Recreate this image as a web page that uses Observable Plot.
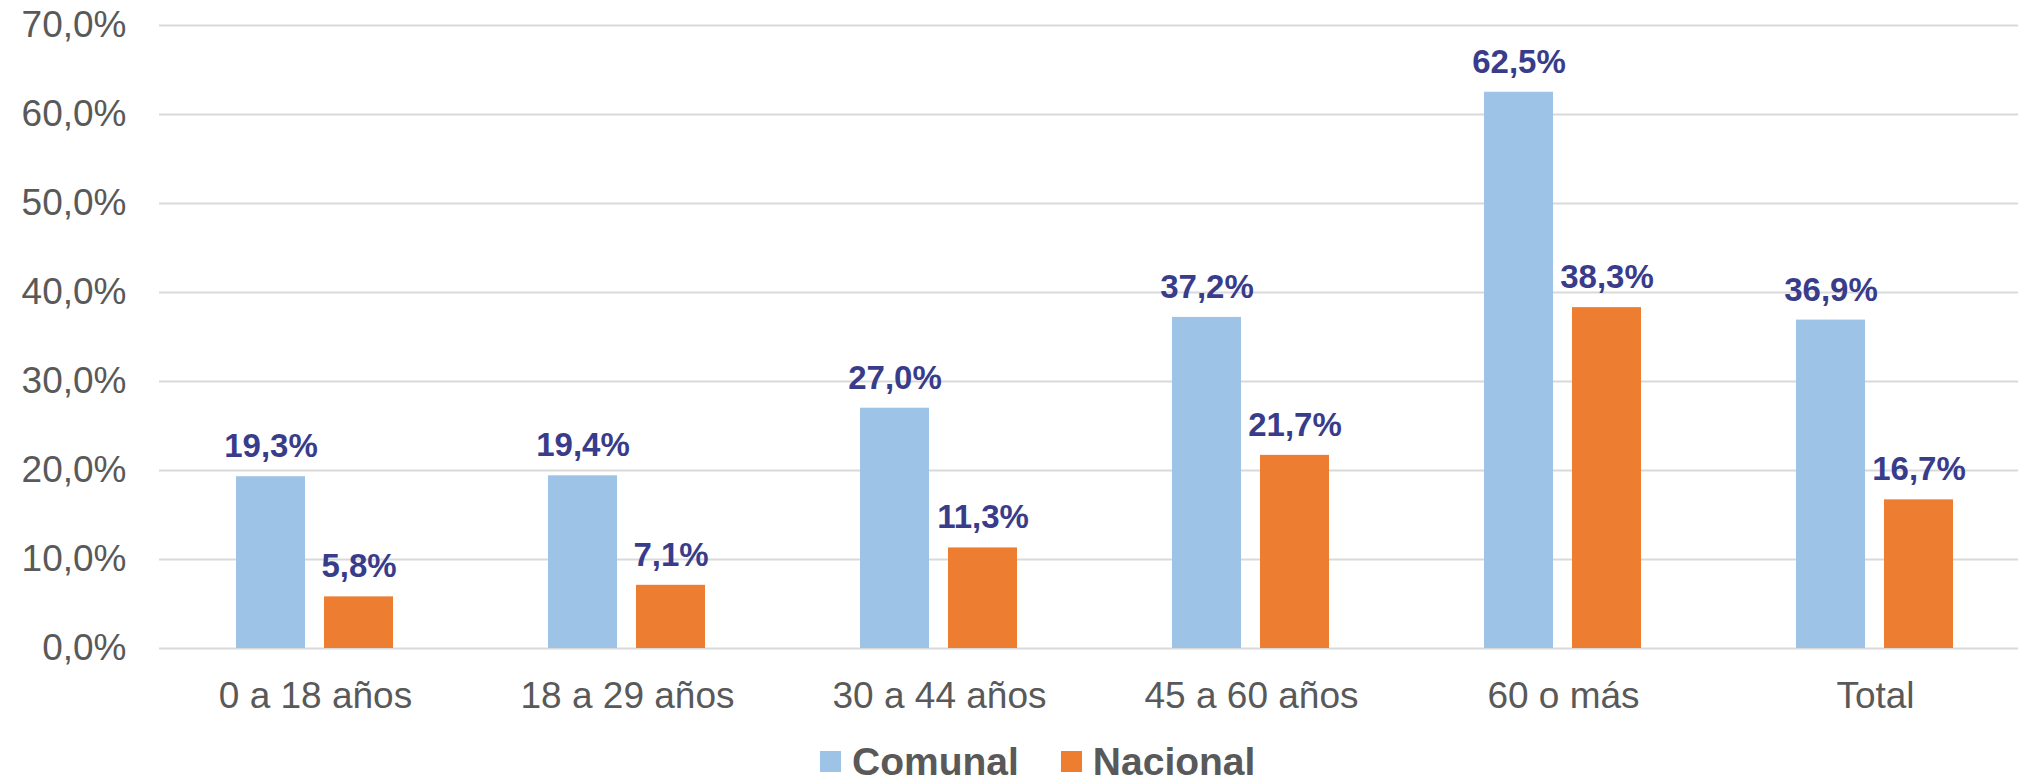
<!DOCTYPE html>
<html>
<head>
<meta charset="utf-8">
<script src="https://cdn.jsdelivr.net/npm/d3@7"></script>
<script src="https://cdn.jsdelivr.net/npm/@observablehq/plot@0.6"></script>
<style>
  html, body { margin: 0; padding: 0; background: #fff; }
  body { width: 2018px; height: 779px; overflow: hidden; font-family: "Liberation Sans", Arial, sans-serif; }
  #legend { display: flex; align-items: center; height: 39px; margin-top: 17px; padding-left: 820px; }
  #legend .sw { width: 21px; height: 21px; margin-right: 11px; }
  #legend .lb { font-size: 39px; line-height: 39px; font-weight: bold; color: #595959; margin-right: 42px; }
</style>
</head>
<body>
<div id="chart"></div>
<div id="legend"></div>
<script>
const categories = ["0 a 18 años", "18 a 29 años", "30 a 44 años", "45 a 60 años", "60 o más", "Total"];
const series = ["Comunal", "Nacional"];
const comunal = [19.3, 19.4, 27.0, 37.2, 62.5, 36.9];
const nacional = [5.8, 7.1, 11.3, 21.7, 38.3, 16.7];
const colors = ["#9DC3E6", "#ED7D31"];
const yTicks = [0, 10, 20, 30, 40, 50, 60, 70];

const data = [];
categories.forEach((c, i) => {
  data.push({cat: c, series: "Comunal", value: comunal[i]});
  data.push({cat: c, series: "Nacional", value: nacional[i]});
});
const fmt = d => d.toFixed(1).replace(".", ",") + "%";

const chart = Plot.plot({
  width: 2018,
  height: 725,
  marginLeft: 156,
  marginRight: -15,
  marginTop: 25,
  marginBottom: 77,
  style: {fontFamily: "'Liberation Sans', Arial, sans-serif", fontSize: "37px", color: "#595959", background: "#fff", overflow: "visible"},
  fx: {domain: categories, padding: 0, label: null, tickSize: 0, tickPadding: 33, axis: "bottom"},
  x: {domain: series, axis: null, paddingInner: 0.2135, paddingOuter: 0.864},
  y: {domain: [0, 70], ticks: yTicks, tickFormat: fmt, tickSize: 0, tickPadding: 33, label: null},
  color: {domain: series, range: colors},
  marks: [
    Plot.ruleY(yTicks, {stroke: "#D9D9D9", strokeWidth: 2}),
    Plot.barY(data, {fx: "cat", x: "series", y: "value", fill: "series"}),
    Plot.text(data, {fx: "cat", x: "series", y: "value", text: d => fmt(d.value), dy: -30, fill: "#393C8A", fontSize: 33, fontWeight: "bold"})
  ]
});
document.getElementById("chart").appendChild(chart);

const legend = document.getElementById("legend");
series.forEach((s, i) => {
  const sw = document.createElement("span");
  sw.className = "sw";
  sw.style.background = colors[i];
  const lb = document.createElement("span");
  lb.className = "lb";
  lb.textContent = s;
  legend.appendChild(sw);
  legend.appendChild(lb);
});
</script>
</body>
</html>
